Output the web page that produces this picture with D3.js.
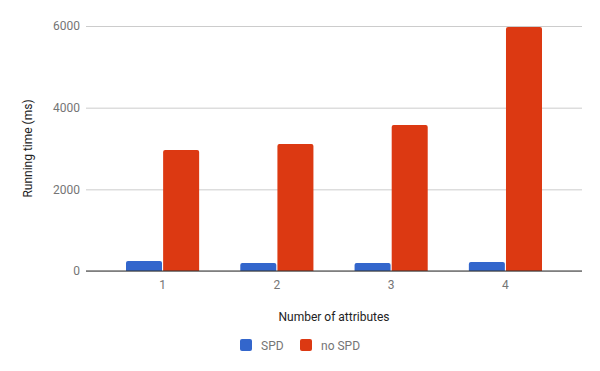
<!DOCTYPE html>
<html>
<head>
<meta charset="utf-8">
<script src="https://d3js.org/d3.v7.min.js"></script>
<style>
  body { margin: 0; background: #fff; }
  text { font-family: Roboto, "Noto Sans", sans-serif; }
</style>
</head>
<body>
<div id="chart"></div>
<script>
var categories = ["1", "2", "3", "4"];
var seriesNames = ["SPD", "no SPD"];
var spd = [245, 196, 196, 220];
var noSpd = [2963, 3110, 3576, 5976];
var yTicks = [0, 2000, 4000, 6000];
var colors = ["#3366cc", "#dc3912"];

var width = 600, height = 371;
var plotL = 86, plotR = 582, plotT = 26, plotB = 271;

var svg = d3.select("#chart").append("svg")
  .attr("width", width)
  .attr("height", height);

var y = d3.scaleLinear().domain([0, 6000]).range([plotB, plotT]);
var x = d3.scaleBand().domain(categories).range([plotL, plotR])
  .paddingInner(0.36).paddingOuter(0.35);
var x1 = d3.scaleBand().domain(seriesNames).range([0, x.bandwidth()]).paddingInner(0.03);

// gridlines + y labels
var yAxis = d3.axisLeft(y).tickValues(yTicks).tickSize(-(plotR - plotL)).tickPadding(6)
  .tickFormat(d3.format("d"));
var gy = svg.append("g").attr("transform", "translate(" + plotL + ",0)").call(yAxis);
gy.select(".domain").remove();
gy.selectAll(".tick line").attr("stroke", "#cccccc");
gy.selectAll(".tick text").attr("fill", "#757575").style("font-size", "12px");

var rows = categories.map(function (c, i) {
  return { cat: c, values: [spd[i], noSpd[i]] };
});

var groups = svg.selectAll(".grp").data(rows).enter().append("g")
  .attr("transform", function (d) { return "translate(" + x(d.cat) + ",0)"; });

groups.selectAll("path").data(function (d) {
  return d.values.map(function (v, j) { return { v: v, s: seriesNames[j], j: j }; });
}).enter().append("path")
  .attr("fill", function (d) { return colors[d.j]; })
  .attr("d", function (d) {
    var x0 = x1(d.s), w = x1.bandwidth(), y0 = y(d.v), r = 2;
    return "M" + x0 + "," + plotB + "V" + (y0 + r) + "Q" + x0 + "," + y0 + " " + (x0 + r) + "," + y0 +
      "H" + (x0 + w - r) + "Q" + (x0 + w) + "," + y0 + " " + (x0 + w) + "," + (y0 + r) + "V" + plotB + "Z";
  });

// baseline
svg.append("line")
  .attr("x1", plotL).attr("x2", plotR)
  .attr("y1", y(0)).attr("y2", y(0))
  .attr("stroke", "#333333").attr("stroke-width", 1);

// x labels
var xAxis = d3.axisBottom(x).tickSize(0).tickPadding(9);
var gx = svg.append("g").attr("transform", "translate(0," + plotB + ")").call(xAxis);
gx.select(".domain").remove();
gx.selectAll(".tick text").attr("fill", "#757575").style("font-size", "12px");

// axis titles
svg.append("text")
  .attr("x", (plotL + plotR) / 2).attr("y", 321)
  .attr("text-anchor", "middle").attr("fill", "#222")
  .style("font-size", "12px")
  .text("Number of attributes");

svg.append("text")
  .attr("transform", "translate(32," + ((plotT + plotB) / 2) + ") rotate(-90)")
  .attr("text-anchor", "middle").attr("fill", "#222")
  .style("font-size", "12px")
  .text("Running time (ms)");

// legend
var legendX = [240, 300];
var lg = svg.selectAll(".lg").data(seriesNames).enter().append("g")
  .attr("transform", function (d, i) { return "translate(" + legendX[i] + ",339)"; });
lg.append("rect").attr("width", 12).attr("height", 12).attr("rx", 2)
  .attr("fill", function (d, i) { return colors[i]; });
lg.append("text").attr("x", 21).attr("y", 10.5)
  .attr("fill", "#757575").style("font-size", "12px")
  .text(function (d) { return d; });
</script>
</body>
</html>
